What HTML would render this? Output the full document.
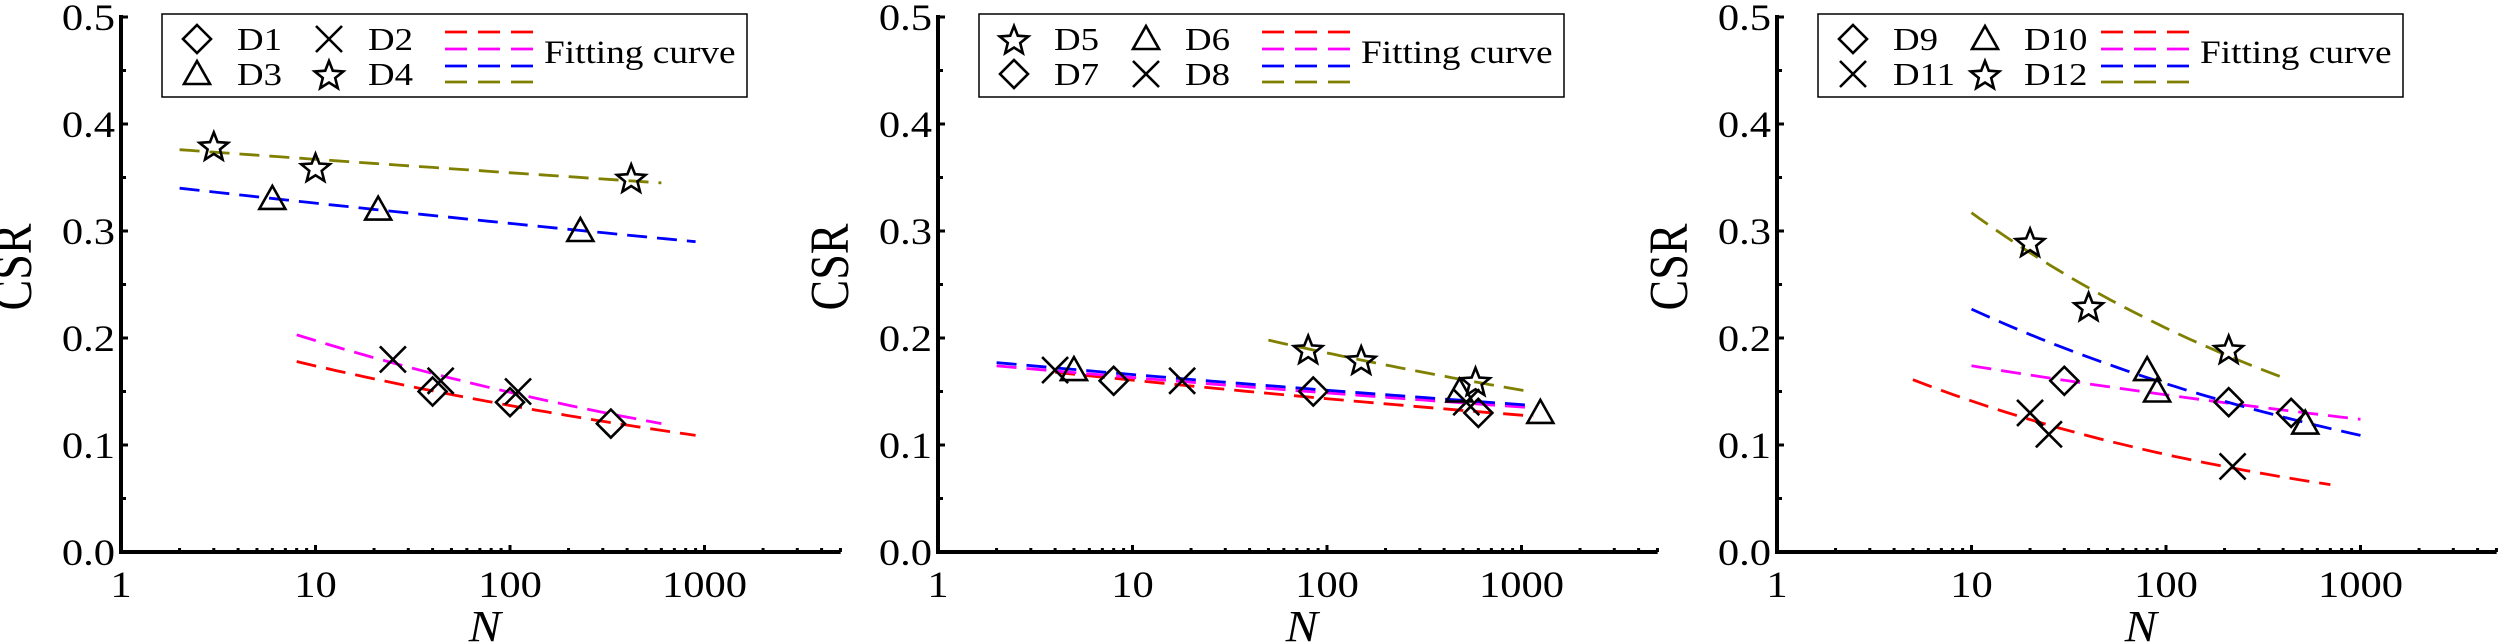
<!DOCTYPE html>
<html><head><meta charset="utf-8"><style>
html,body{margin:0;padding:0;background:#fff;}
svg{display:block;}
text{font-family:"Liberation Serif",serif;fill:#000;}
</style></head><body>
<svg id="chart" width="2500" height="644" viewBox="0 0 2500 644" xmlns="http://www.w3.org/2000/svg"></svg>
<script>
// ---- data ----
const panelNames = ["panel-a","panel-b","panel-c"];
const panelAxisX = [121, 938, 1777];
const yTicks = [0.0,0.1,0.2,0.3,0.4,0.5];
const yTickLabels = ["0.0","0.1","0.2","0.3","0.4","0.5"];
const xTickLabels = ["1","10","100","1000"];
const xTickValues = [1,10,100,1000];
const legendNames = [["D1","D2","D3","D4"],["D5","D6","D7","D8"],["D9","D10","D11","D12"]];
const legendMarkers = [["diamond","x","triangle","star"],["star","triangle","diamond","x"],["diamond","triangle","x","star"]];
const fitColors = ["#ff0000","#ff00ff","#0000ff","#808000"];
const p1D1N=[40,100,330], p1D1C=[0.15,0.14,0.12];
const p1D2N=[25,44,110], p1D2C=[0.18,0.16,0.15];
const p1D3N=[6,21,230], p1D3C=[0.33,0.32,0.30];
const p1D4N=[3,10,420], p1D4C=[0.38,0.36,0.35];
const p2D5N=[80,150,580], p2D5C=[0.19,0.18,0.16];
const p2D6N=[5,480,1250], p2D6C=[0.17,0.15,0.13];
const p2D7N=[8,85,600], p2D7C=[0.16,0.15,0.13];
const p2D8N=[4,18,520], p2D8C=[0.17,0.16,0.14];
const p3D9N=[30,210,440], p3D9C=[0.16,0.14,0.13];
const p3D10N=[80,90,520], p3D10C=[0.17,0.15,0.12];
const p3D11N=[20,25,220], p3D11C=[0.13,0.11,0.08];
const p3D12N=[20,40,210], p3D12C=[0.29,0.23,0.19];
const fitNStart=[[8,8,2,2],[4,2,2,50],[5,10,10,10]];
const fitNEnd=[[900,600,900,600],[1150,1100,1150,1100],[700,1000,1000,400]];
const fitCStart=[[0.178,0.203,0.340,0.376],[0.168,0.174,0.177,0.198],[0.161,0.174,0.227,0.317]];
const fitCEnd=[[0.109,0.120,0.290,0.345],[0.127,0.135,0.137,0.150],[0.063,0.124,0.109,0.163]];

const series=[
 {p:0,m:"diamond",n:"D1",N:p1D1N,C:p1D1C},{p:0,m:"x",n:"D2",N:p1D2N,C:p1D2C},
 {p:0,m:"triangle",n:"D3",N:p1D3N,C:p1D3C},{p:0,m:"star",n:"D4",N:p1D4N,C:p1D4C},
 {p:1,m:"star",n:"D5",N:p2D5N,C:p2D5C},{p:1,m:"triangle",n:"D6",N:p2D6N,C:p2D6C},
 {p:1,m:"diamond",n:"D7",N:p2D7N,C:p2D7C},{p:1,m:"x",n:"D8",N:p2D8N,C:p2D8C},
 {p:2,m:"diamond",n:"D9",N:p3D9N,C:p3D9C},{p:2,m:"triangle",n:"D10",N:p3D10N,C:p3D10C},
 {p:2,m:"x",n:"D11",N:p3D11N,C:p3D11C},{p:2,m:"star",n:"D12",N:p3D12N,C:p3D12C}
];

const NS="http://www.w3.org/2000/svg";
const svg=document.getElementById('chart');
const DEC=194.5, Y0=552, YPER=1070, XMAXLOG=3.7;
function xs(p,N){return panelAxisX[p]+Math.log10(N)*DEC;}
function ys(c){return Y0-c*YPER;}
function mk(tag,attrs,parent){const e=document.createElementNS(NS,tag);for(const k in attrs)e.setAttribute(k,attrs[k]);(parent||svg).appendChild(e);return e;}
function txt(s,x,y,size,anchor,parent,extra,sx){
  const g=mk('g',{transform:`translate(${x},${y}) scale(${sx||1.15},1)`},parent);
  const t=mk('text',Object.assign({x:0,y:0,'font-size':size,'text-anchor':anchor||'start'},extra||{}),g);
  t.textContent=s;return t;}
function marker(type,x,y,parent){
  const st={fill:'none',stroke:'#000','stroke-width':2.6};
  let e;
  if(type==='diamond'){e=mk('polygon',Object.assign({points:`${x},${y-14} ${x+14},${y} ${x},${y+14} ${x-14},${y}`},st),parent);}
  else if(type==='triangle'){e=mk('polygon',Object.assign({points:`${x},${y-13} ${x+13},${y+10} ${x-13},${y+10}`},st),parent);}
  else if(type==='x'){e=mk('path',Object.assign({d:`M${x-13},${y-13}L${x+13},${y+13}M${x+13},${y-13}L${x-13},${y+13}`},st),parent);}
  else {let pts=[];for(let i=0;i<10;i++){const r=i%2?6.5:15;const a=-Math.PI/2+i*Math.PI/5;pts.push((x+r*Math.cos(a)).toFixed(1)+','+(y+2+r*Math.sin(a)).toFixed(1));}
    e=mk('polygon',Object.assign({points:pts.join(' ')},st),parent);}
  return e;}

for(let p=0;p<3;p++){
  const g=mk('g',{});
  
  
  const ax=panelAxisX[p], xr=ax+XMAXLOG*DEC;
  const yAxis=mk('line',{x1:ax,y1:15,x2:ax,y2:Y0+2,stroke:'#000','stroke-width':4},g);
  
  
  const xAxis=mk('line',{x1:ax-2,y1:Y0,x2:xr,y2:Y0,stroke:'#000','stroke-width':4},g);
  
  
  for(let i=0;i<yTicks.length;i++){
    const y=ys(yTicks[i]);
    mk('line',{x1:ax,y1:y,x2:ax+7,y2:y,stroke:'#000','stroke-width':3},g);
    if(i<yTicks.length-1) mk('line',{x1:ax,y1:ys(yTicks[i]+0.05),x2:ax+5,y2:ys(yTicks[i]+0.05),stroke:'#000','stroke-width':3},g);
    const t=txt(yTickLabels[i],ax-6,y+13,37,'end',g);
    
    
  }
  for(let d=0;d<4;d++){
    for(let k=1;k<10;k++){
      const N=Math.pow(10,d)*k; if(Math.log10(N)>XMAXLOG) break;
      if(k===1&&d===0) continue;
      const x=xs(p,N);
      mk('line',{x1:x,y1:Y0,x2:x,y2:Y0-(k===1?7:4),stroke:'#000','stroke-width':3},g);
    }
  }
  for(let i=0;i<xTickValues.length;i++){
    const t=txt(xTickLabels[i],xs(p,xTickValues[i]),597,37,'middle',g);
    
    
  }
  const yt=mk('g',{transform:`translate(${ax-90},267) rotate(-90) scale(1,1.2)`},g);
  const ytt=mk('text',{x:0,y:0,'font-size':46,'text-anchor':'middle'},yt);ytt.textContent='CSR';
  
  
  const xt=txt('N',xs(p,Math.pow(10,1.87)),641,44,'middle',g,{'font-style':'italic'},1.1);
  
  
  for(let f=0;f<4;f++){
    const n1=fitNStart[p][f],n2=fitNEnd[p][f],c1=fitCStart[p][f],c2=fitCEnd[p][f];
    const b=Math.log(c2/c1)/Math.log(n2/n1);
    let d='';
    for(let s=0;s<=40;s++){const N=n1*Math.pow(n2/n1,s/40);const C=c1*Math.pow(N/n1,b);d+=(s?'L':'M')+xs(p,N).toFixed(1)+','+ys(C).toFixed(1);}
    const path=mk('path',{d:d,fill:'none',stroke:fitColors[f],'stroke-width':2.8,'stroke-dasharray':'20 10'},g);
    
    
  }
  const lx=ax+41;
  const lg=mk('g',{},g);
  
  
  mk('rect',{x:lx,y:14,width:585,height:83,fill:'#fff',stroke:'#000','stroke-width':1.5},lg);
  const pos=[[35,75,39],[167,206,39],[35,75,74],[167,206,74]];
  for(let i=0;i<4;i++){
    const eg=mk('g',{},lg);
    
    
    marker(legendMarkers[p][i],lx+pos[i][0],pos[i][2],eg);
    txt(legendNames[p][i],lx+pos[i][1],pos[i][2]+11,32,'start',eg);
  }
  const dy=[32,49,66,82];
  for(let f=0;f<4;f++) mk('line',{x1:lx+283,y1:dy[f],x2:lx+371,y2:dy[f],stroke:fitColors[f],'stroke-width':2.8,'stroke-dasharray':'22 11'},lg);
  txt('Fitting curve',lx+382,63,33,'start',lg,null,1.13);
}
for(const s of series){
  const sg=mk('g',{});
  
  
  for(let i=0;i<s.N.length;i++){
    const m=marker(s.m,xs(s.p,s.N[i]),ys(s.C[i]),sg);
    
    
  }
}
</script>
</body></html>
